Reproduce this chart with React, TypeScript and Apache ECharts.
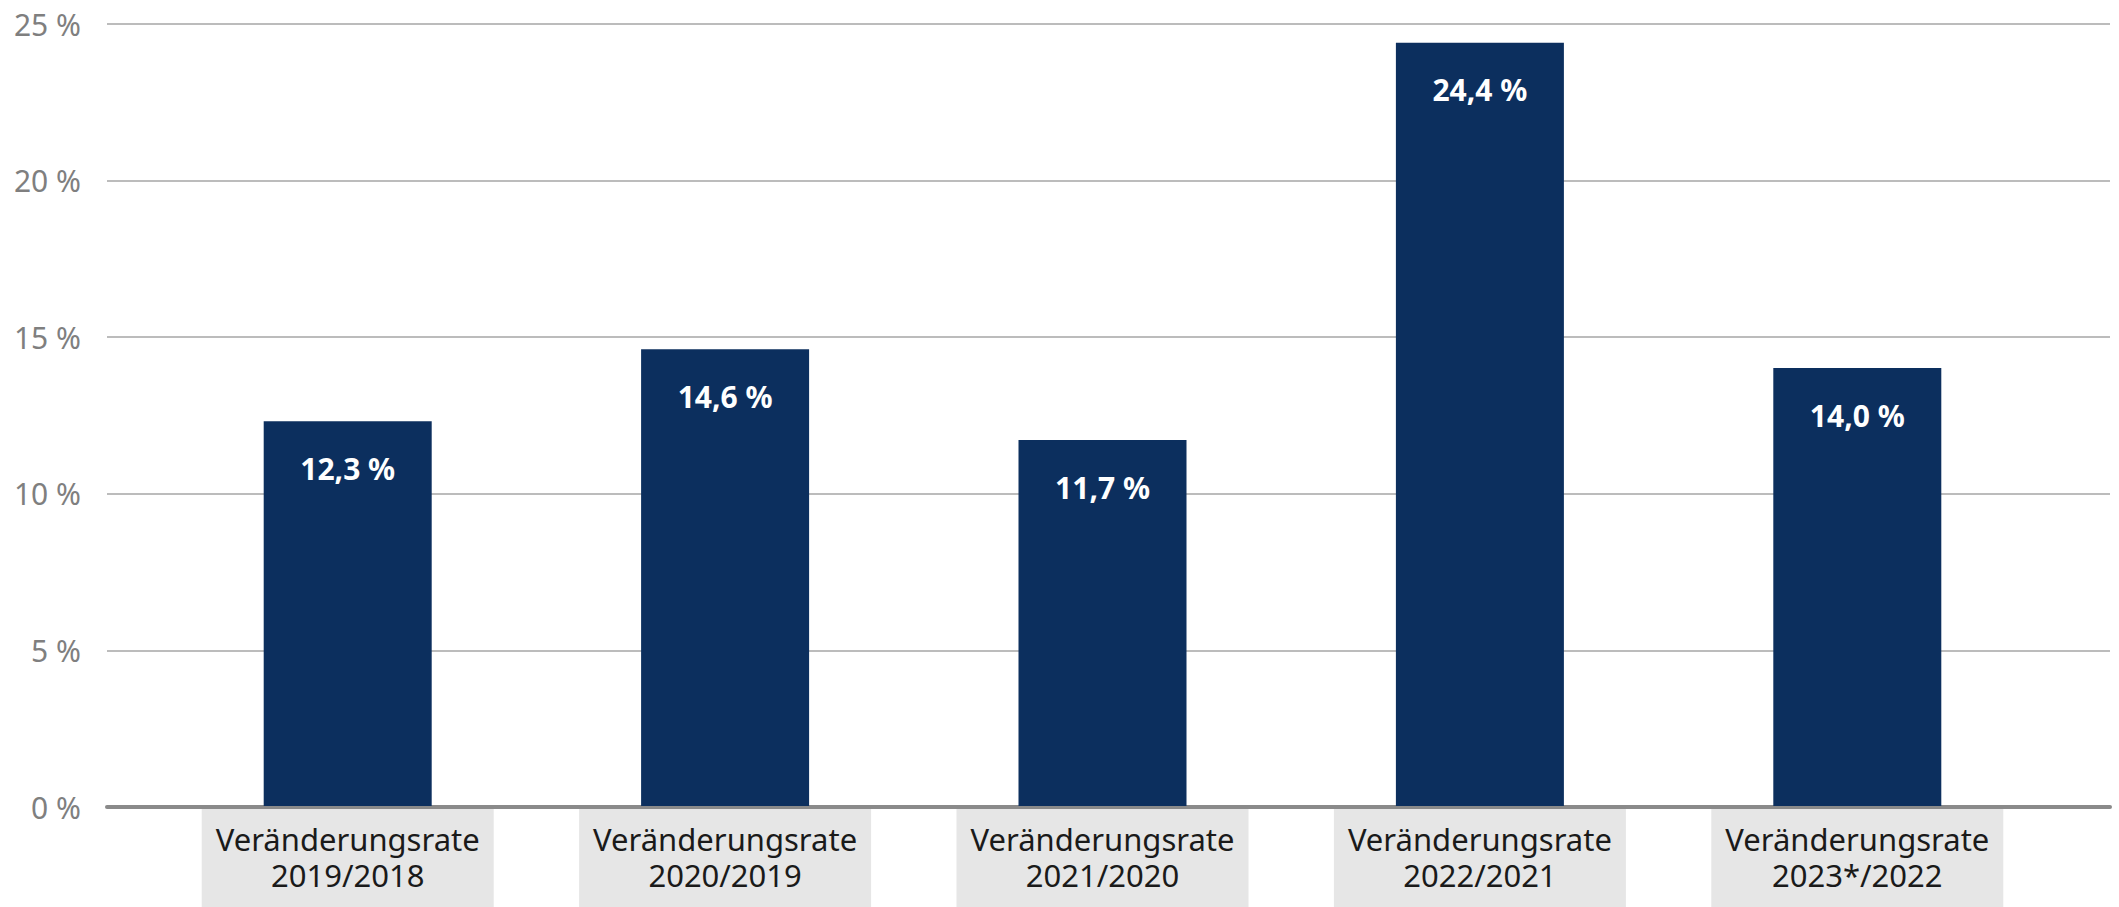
import React, { useEffect, useRef } from "react";
import * as echarts from "echarts";

const categories = [
  "Veränderungsrate\n2019/2018",
  "Veränderungsrate\n2020/2019",
  "Veränderungsrate\n2021/2020",
  "Veränderungsrate\n2022/2021",
  "Veränderungsrate\n2023*/2022",
];
const values = [12.3, 14.6, 11.7, 24.4, 14.0];
const yTicks = [0, 5, 10, 15, 20, 25];

const FONT = "'Noto Sans', sans-serif";

export default function App() {
  const ref = useRef<HTMLDivElement>(null);
  useEffect(() => {
    if (!ref.current) return;
    const chart = echarts.init(ref.current, undefined, { renderer: "svg" });
    const top = 24;
    const bottom = 100;
    chart.setOption({
      animation: false,
      backgroundColor: "#ffffff",
      grid: [
        { left: 107, right: 9, top, bottom },
        { left: 159, right: 73, top, bottom },
      ],
      xAxis: [
        {
          gridIndex: 0,
          type: "value",
          min: 0,
          max: 1,
          axisLine: { show: true, onZero: true, lineStyle: { color: "#8a8a8a", width: 4 } },
          axisTick: { show: false },
          axisLabel: { show: false },
          splitLine: { show: false },
        },
        {
          gridIndex: 1,
          type: "category",
          data: categories,
          axisLine: { show: false },
          axisTick: { show: false },
          axisLabel: {
            margin: 3,
            color: "#1a1a1a",
            fontFamily: FONT,
            fontSize: 31,
            lineHeight: 36,
            backgroundColor: "#e6e6e6",
            width: 262,
            overflow: "none",
            align: "center",
            padding: [12, 15, 14, 15],
            verticalAlign: "top",
          },
        },
      ],
      yAxis: [
        {
          gridIndex: 0,
          type: "value",
          min: yTicks[0],
          max: yTicks[yTicks.length - 1],
          interval: 5,
          axisLine: { show: false },
          axisTick: { show: false },
          axisLabel: {
            margin: 26,
            color: "#7f7f7f",
            fontFamily: FONT,
            fontSize: 30,
            formatter: (v: number) => `${v} %`,
          },
          splitLine: { lineStyle: { color: "#a6a6a6", width: 1.5 } },
        },
        {
          gridIndex: 1,
          type: "value",
          min: yTicks[0],
          max: yTicks[yTicks.length - 1],
          interval: 5,
          show: false,
          splitLine: { show: false },
        },
      ],
      series: [
        {
          type: "bar",
          xAxisIndex: 1,
          yAxisIndex: 1,
          data: values,
          barWidth: 168,
          itemStyle: { color: "#0c2f5e" },
          label: {
            show: true,
            position: "insideTop",
            distance: 32,
            color: "#ffffff",
            fontWeight: "bold",
            fontFamily: FONT,
            fontSize: 30,
            formatter: (p: any) => `${Number(p.value).toFixed(1).replace(".", ",")} %`,
          },
        },
      ],
    });
    return () => chart.dispose();
  }, []);
  return (
    <div
      ref={ref}
      style={{ position: "fixed", left: 0, top: 0, width: 2119, height: 907 }}
    />
  );
}
